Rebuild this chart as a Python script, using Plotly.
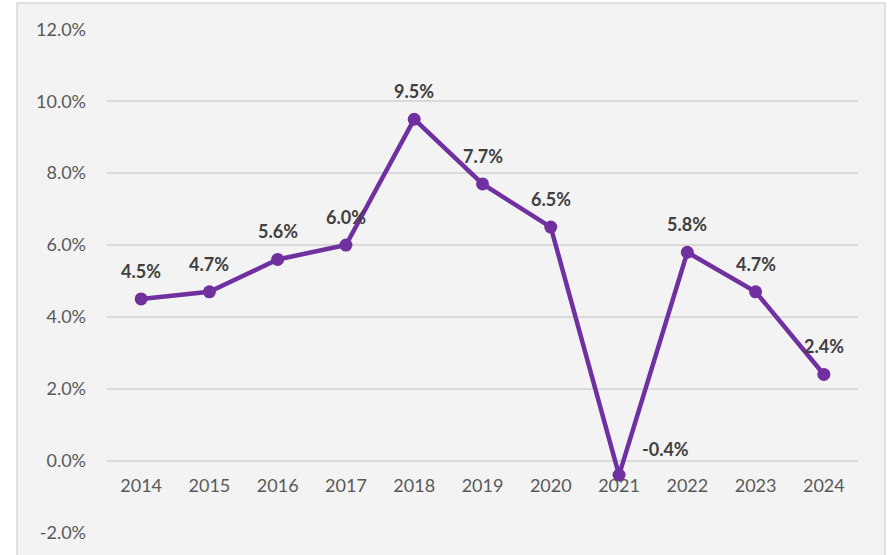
import plotly.graph_objects as go

years = ["2014", "2015", "2016", "2017", "2018", "2019", "2020", "2021", "2022", "2023", "2024"]
growth = [4.5, 4.7, 5.6, 6.0, 9.5, 7.7, 6.5, -0.4, 5.8, 4.7, 2.4]
label_dx = [0, 0, 0, 0, 0, 0, 0, 46, 0, 0, 0]
label_dy = [28, 28, 28, 28, 28, 28, 28, 26, 28, 28, 28]
y_ticks = [-2, 0, 2, 4, 6, 8, 10, 12]
y_tick_text = ["-2.0%", "0.0%", "2.0%", "4.0%", "6.0%", "8.0%", "10.0%", "12.0%"]

PURPLE = "#7030A0"
GRID = "#d9d9d9"

fig = go.Figure()
fig.add_trace(go.Scatter(
    x=years, y=growth,
    mode="lines+markers",
    line=dict(color=PURPLE, width=4.5),
    marker=dict(color=PURPLE, size=13),
    cliponaxis=False,
    showlegend=False,
    hoverinfo="skip",
))

for i, (v, dx, dy) in enumerate(zip(growth, label_dx, label_dy)):
    fig.add_annotation(
        x=i, y=v, xref="x", yref="y", text=f"<b>{v:.1f}%</b>", showarrow=False,
        xshift=dx, yshift=dy,
        font=dict(family="Lato", size=18, color="#404040"),
    )

fig.add_shape(type="rect", xref="paper", yref="paper",
              x0=-0.1198, x1=1.036, y0=-0.06, y1=1.0516,
              fillcolor="#f3f3f3", line=dict(color=GRID, width=1.5), layer="below")

fig.update_layout(
    width=892, height=555,
    margin=dict(l=107, r=34, t=29, b=22, autoexpand=False),
    paper_bgcolor="white",
    plot_bgcolor="rgba(0,0,0,0)",
    font=dict(family="Lato", size=18, color="#595959"),
    xaxis=dict(
        type="category", range=[-0.5, 10.5],
        showgrid=False, showline=False, zeroline=False,
        anchor="free", position=2.01 / 14.02, automargin=False,
        ticks="", ticklabelstandoff=12,
        tickfont=dict(size=18, color="#595959"),
    ),
    yaxis=dict(
        range=[-2.01, 12.01], tickvals=y_ticks, ticktext=y_tick_text,
        showgrid=True, gridcolor=GRID, gridwidth=1.5, automargin=False,
        zeroline=False, showline=False, ticks="",
        ticklabelstandoff=20,
        tickfont=dict(size=18, color="#595959"),
    ),
)

fig.write_html("out.html",
               config={"displayModeBar": False},
               post_script="document.body.style.margin='0';document.body.style.overflow='hidden';")
